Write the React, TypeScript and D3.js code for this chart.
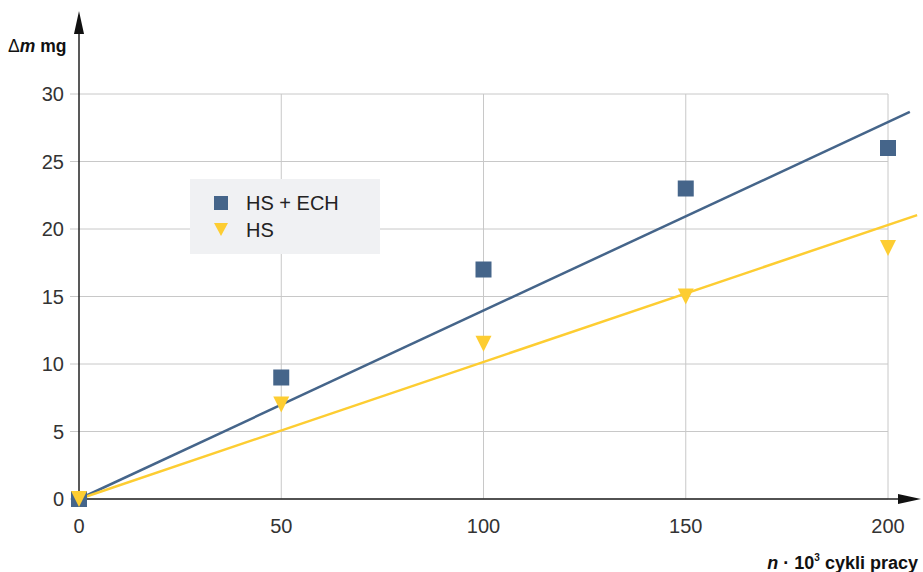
import * as d3 from 'd3';

// n * 10^3 cycles
const cycles = [0, 50, 100, 150, 200];
const hsEch = [0, 9, 17, 23, 26];
const hs = [0, 7, 11.5, 15, 18.6];

const xTicks = [0, 50, 100, 150, 200];
const yTicks = [0, 5, 10, 15, 20, 25, 30];

// trend lines: slope through origin, drawn up to xEnd
const trendSlopes = [0.1396, 0.1015];
const trendEnds = [205.4, 207.2];

const seriesNames = ['HS + ECH', 'HS'];
const colors = ['#45658a', '#fdcd32'];

const width = 923;
const height = 572;
const font = '"Liberation Sans", Arial, sans-serif';

// downward triangle, w wide and h tall, centred on 0,0
const tri = (w: number, h: number) => {
  const p = d3.path();
  p.moveTo(-w / 2, -h / 2);
  p.lineTo(w / 2, -h / 2);
  p.lineTo(0, h / 2);
  p.closePath();
  return p.toString();
};

function App() {
  const x = d3.scaleLinear().domain([0, 200]).range([79, 888]);
  const y = d3.scaleLinear().domain([0, 30]).range([499, 94]);

  const line = d3
    .line<number[]>()
    .x((d) => x(d[0]))
    .y((d) => y(d[1]));

  const trendPath = (i: number) =>
    line([
      [0, 0],
      [trendEnds[i], trendSlopes[i] * trendEnds[i]],
    ]);

  return (
    <svg
      width={width}
      height={height}
      style={{ position: 'absolute', left: 0, top: 0, fontFamily: font }}
    >
      {/* grid */}
      {yTicks.map((t) => (
        <g key={'y' + t}>
          <line x1={70} x2={x(200)} y1={y(t)} y2={y(t)} stroke="#c8c8c8" strokeWidth={1} />
          <text x={64} y={y(t)} dy="0.35em" textAnchor="end" fontSize={20} fill="#333">
            {t}
          </text>
        </g>
      ))}
      {xTicks.map((t) => (
        <g key={'x' + t}>
          {t > 0 && (
            <line x1={x(t)} x2={x(t)} y1={y(30)} y2={y(0)} stroke="#c8c8c8" strokeWidth={1} />
          )}
          <text x={x(t)} y={526} dy="0.35em" textAnchor="middle" fontSize={20} fill="#333">
            {t}
          </text>
        </g>
      ))}

      {/* axes */}
      <line x1={x(0)} x2={x(0)} y1={y(0) + 8} y2={20} stroke="#222" strokeWidth={1.5} />
      <path d={`M${x(0)},11 L${x(0) - 5},34 L${x(0) + 5},34 Z`} fill="#111" />
      <line x1={x(0)} x2={912} y1={y(0)} y2={y(0)} stroke="#222" strokeWidth={1.5} />
      <path d={`M921,${y(0)} L898,${y(0) - 5} L898,${y(0) + 5} Z`} fill="#111" />

      <text x={8} y={52} fontSize={17.5} fontWeight="bold" fill="#111">
        <tspan fontWeight="normal">Δ</tspan>
        <tspan fontStyle="italic">m</tspan> mg
      </text>
      <text x={918} y={569} textAnchor="end" fontSize={18} fontWeight="bold" fill="#111">
        <tspan fontStyle="italic">n</tspan> · 10
        <tspan fontSize={10} dy={-8}>3</tspan>
        <tspan dy={8}> cykli pracy</tspan>
      </text>

      {/* trend lines */}
      {trendSlopes.map((s, i) => (
        <path key={'t' + i} d={trendPath(i) || ''} fill="none" stroke={colors[i]} strokeWidth={2.5} />
      ))}

      {/* points */}
      {cycles.map((c, i) => (
        <rect
          key={'s' + i}
          x={x(c) - 8}
          y={y(hsEch[i]) - 8}
          width={16}
          height={16}
          fill={colors[0]}
        />
      ))}
      {cycles.map((c, i) => (
        <path
          key={'h' + i}
          d={tri(16, 16)}
          transform={`translate(${x(c)},${y(hs[i])})`}
          fill={colors[1]}
        />
      ))}

      {/* legend */}
      <rect x={190} y={179} width={190} height={75} fill="#f0f1f3" />
      <rect x={214} y={196} width={14} height={14} fill={colors[0]} />
      <text x={246} y={203} dy="0.36em" fontSize={20} fill="#222">
        {seriesNames[0]}
      </text>
      <path d={tri(14, 13)} transform="translate(221,229.5)" fill={colors[1]} />
      <text x={246} y={230} dy="0.36em" fontSize={20} fill="#222">
        {seriesNames[1]}
      </text>
    </svg>
  );
}

export default App;
